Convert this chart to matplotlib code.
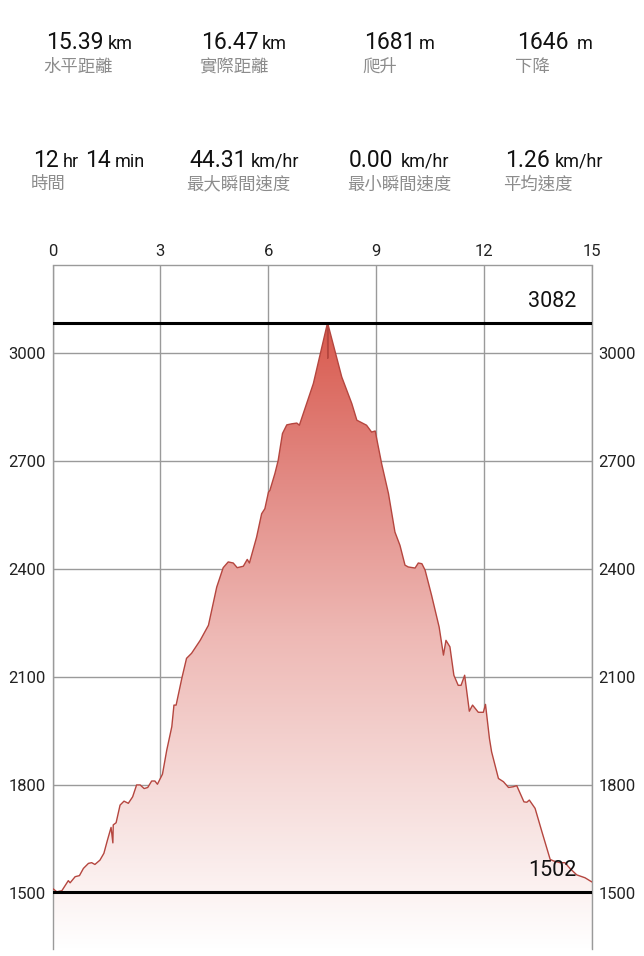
import numpy as np
from matplotlib import pyplot as plt
from matplotlib.colors import LinearSegmentedColormap

plt.rcParams['font.family'] = ['Roboto', 'Noto Sans CJK TC', 'DejaVu Sans']

distance = [0, 0.02, 0.12, 0.26, 0.44, 0.49, 0.63, 0.75, 0.86, 1.00, 1.09, 1.18, 1.32, 1.43, 1.53, 1.63, 1.68, 1.69,
            1.77, 1.88, 1.99, 2.11, 2.23, 2.34, 2.44, 2.55, 2.65, 2.76, 2.85, 2.92, 3.06, 3.18, 3.32, 3.38, 3.44,
            3.60, 3.73, 3.87, 4.11, 4.34, 4.57, 4.75, 4.89, 5.03, 5.14, 5.31, 5.42, 5.48, 5.68, 5.82, 5.91, 6.01,
            6.05, 6.19, 6.28, 6.40, 6.52, 6.66, 6.80, 6.87, 7.26, 7.65, 7.66, 7.67, 8.05, 8.33, 8.47, 8.74, 8.88,
            8.98, 9.16, 9.35, 9.53, 9.67, 9.81, 9.90, 10.09, 10.18, 10.28, 10.37, 10.55, 10.76, 10.88, 10.95, 11.06,
            11.17, 11.29, 11.37, 11.47, 11.60, 11.69, 11.85, 11.99, 12.05, 12.16, 12.22, 12.41, 12.55, 12.69, 12.82,
            12.92, 13.12, 13.20, 13.27, 13.43, 13.62, 13.85, 13.94, 14.12, 14.26, 14.40, 14.59, 14.82, 15.0]
elevation = [1510, 1510, 1502, 1505, 1533, 1527, 1544, 1547, 1567, 1581, 1583, 1578, 1590, 1609, 1646, 1681, 1638, 1688,
             1694, 1743, 1754, 1748, 1766, 1799, 1799, 1789, 1792, 1810, 1810, 1801, 1829, 1896, 1961, 2021, 2021,
             2096, 2151, 2165, 2201, 2243, 2349, 2403, 2419, 2416, 2403, 2407, 2426, 2416, 2488, 2553, 2567, 2613,
             2618, 2665, 2701, 2776, 2800, 2803, 2805, 2799, 2915, 3082, 2985, 3078, 2933, 2859, 2813, 2799, 2780,
             2783, 2692, 2609, 2502, 2465, 2410, 2405, 2402, 2416, 2414, 2396, 2326, 2238, 2160, 2201, 2183,
             2104, 2076, 2076, 2104, 2004, 2021, 2001, 2001, 2023, 1928, 1891, 1817, 1808, 1792, 1794,
             1797, 1752, 1751, 1757, 1734, 1669, 1592, 1588, 1583, 1583, 1567, 1549, 1541, 1530]

x_ticks = [0, 3, 6, 9, 12, 15]
y_ticks = [1500, 1800, 2100, 2400, 2700, 3000]
max_elev = 3082
min_elev = 1502

# number, unit pieces as (text, size, left px), then caption and its left px
stats_row1 = [
    ([('15.39', 16.5, 46), ('km', 13, 108)], '水平距離', 43),
    ([('16.47', 16.5, 201), ('km', 13, 262)], '實際距離', 199),
    ([('1681', 16.5, 364), ('m', 13, 419)], '爬升', 362),
    ([('1646', 16.5, 517), ('m', 13, 577)], '下降', 515),
]
stats_row2 = [
    ([('12', 16.5, 33), ('hr', 13, 63), ('14', 16.5, 85), ('min', 13, 115)], '時間', 31),
    ([('44.31', 16.5, 189), ('km/hr', 13, 251)], '最大瞬間速度', 186),
    ([('0.00', 16.5, 349), ('km/hr', 13, 401)], '最小瞬間速度', 347),
    ([('1.26', 16.5, 505), ('km/hr', 13, 555)], '平均速度', 503),
]

W, H = 644, 956
fig = plt.figure(figsize=(W / 100, H / 100), dpi=100)
ax = fig.add_axes([52.5 / W, 1 - 949 / H, 539 / W, 683.5 / H])
ax.set_xlim(0, 15)
ax.set_ylim(1343, 3243)

ax.set_xticks(x_ticks)
ax.set_yticks(y_ticks)
ax.grid(color='#9a9a9a', linewidth=1.0, zorder=1)
ax.tick_params(length=0, labelbottom=False, labeltop=True, labelleft=True, labelright=True, labelsize=12,
               labelcolor='#222222', pad=5)
ax.spines['bottom'].set_visible(False)
for side in ['left', 'right', 'top']:
    ax.spines[side].set_color('#9a9a9a')
    ax.spines[side].set_linewidth(1.0)

# red to white gradient under the profile
cmap = LinearSegmentedColormap.from_list('profile', ['#ffffff', '#f6dcda', '#eeb9b5', '#e28a84', '#d95a4e'])
grad = np.linspace(1, 0, 256).reshape(-1, 1)
img = ax.imshow(grad, cmap=cmap, aspect='auto', extent=[0, 15, 1343, max_elev], zorder=2)
poly = ax.fill_between(distance, elevation, 1343, color='none', linewidth=0)
img.set_clip_path(poly.get_paths()[0], transform=ax.transData)
ax.set_xlim(0, 15)
ax.set_ylim(1343, 3243)

ax.plot(distance, elevation, color='#b5463f', linewidth=1.0, zorder=3)
ax.axhline(max_elev, color='black', linewidth=2.2, zorder=4)
ax.axhline(min_elev, color='black', linewidth=2.2, zorder=4)
ax.text(14.58, max_elev + 60, str(max_elev), fontsize=15.5, color='#111111', ha='right', va='center', zorder=5)
ax.text(14.58, min_elev + 60, str(min_elev), fontsize=15.5, color='#111111', ha='right', va='center', zorder=5)


def draw_row(row, base_px, caption_px):
    for pieces, caption, cap_x in row:
        for txt, size, x in pieces:
            fig.text(x / W, 1 - base_px / H, txt, fontsize=size, color='#111111', va='baseline')
        fig.text(cap_x / W, 1 - caption_px / H, caption, fontsize=12.5, color='#8c8c8c', va='center')


draw_row(stats_row1, 49, 67)
draw_row(stats_row2, 167, 184)

fig.savefig('out.png', dpi=100)
